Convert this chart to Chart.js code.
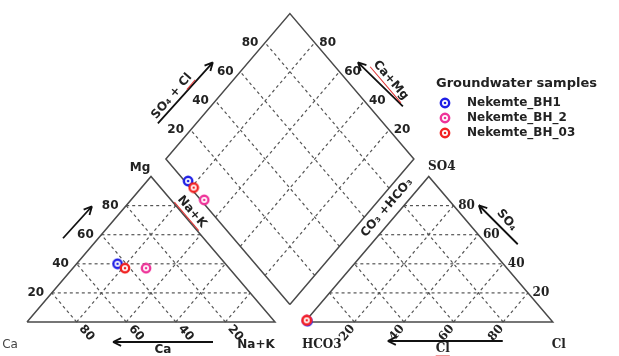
<!DOCTYPE html>
<html>
<head>
<meta charset="utf-8">
<script src="https://cdn.jsdelivr.net/npm/chart.js@4/dist/chart.umd.min.js"></script>
<style>
html, body { margin: 0; padding: 0; background: #fff; }
#wrap { width: 619px; height: 356px; position: relative; }
</style>
</head>
<body>
<div id="wrap"><canvas id="piper"></canvas></div>
<script>
// sample data (% meq/l)
const samples = ['Nekemte_BH1', 'Nekemte_BH_2', 'Nekemte_BH_03'];
const sampleColors = ['#1f1fe6', '#ee3399', '#f22222'];
const ca = [43.5, 33.5, 42];
const mg = [40, 37, 37];
const naK = [16.5, 29.5, 21];
const hco3 = [98.6, 98.6, 98.6];
const so4 = [0.6, 1.2, 1.2];
const cl = [0.8, 0.2, 0.2];
const gridTicks = [20, 40, 60, 80];

const GAP = 12;
const H = Math.sqrt(3) / 2;

function cationXY(c, m, n) {
    const t = c + m + n;
    return { x: (n + m / 2) / t * 100, y: m / t * 100 * H };
}
function anionXY(h, s, c) {
    const t = h + s + c;
    return { x: 100 + GAP + (c + s / 2) / t * 100, y: s / t * 100 * H };
}
function diamondXY(caMg, so4Cl) {
    return { x: 100 + GAP / 2 - caMg / 2 + so4Cl / 2, y: GAP * H + (caMg + so4Cl) * H };
}

function lineSet(points, dashed) {
    return {
        type: 'scatter',
        data: points,
        showLine: true,
        borderColor: dashed ? '#555' : '#4a4a4a',
        borderWidth: dashed ? 1.2 : 1.5,
        borderDash: dashed ? [3, 3] : [],
        pointRadius: 0,
        fill: false,
        order: 10
    };
}

const lineSets = [];
// outlines
lineSets.push(lineSet([{x: 0, y: 0}, {x: 100, y: 0}, {x: 50, y: 100 * H}, {x: 0, y: 0}], false));
const ox = 100 + GAP;
lineSets.push(lineSet([{x: ox, y: 0}, {x: ox + 100, y: 0}, {x: ox + 50, y: 100 * H}, {x: ox, y: 0}], false));
lineSets.push(lineSet([diamondXY(0, 0), diamondXY(100, 0), diamondXY(100, 100), diamondXY(0, 100), diamondXY(0, 0)], false));

// grids
gridTicks.forEach(t => {
    [0, ox].forEach(o => {
        lineSets.push(lineSet([{x: o + t / 2, y: t * H}, {x: o + 100 - t / 2, y: t * H}], true));
        lineSets.push(lineSet([{x: o + t, y: 0}, {x: o + t + (100 - t) / 2, y: (100 - t) * H}], true));
        lineSets.push(lineSet([{x: o + 100 - t, y: 0}, {x: o + (100 - t) / 2, y: (100 - t) * H}], true));
    });
    lineSets.push(lineSet([diamondXY(t, 0), diamondXY(t, 100)], true));
    lineSets.push(lineSet([diamondXY(0, t), diamondXY(100, t)], true));
});

function makeMarker(color) {
    const c = document.createElement('canvas');
    c.width = 12; c.height = 12;
    const g = c.getContext('2d');
    g.beginPath();
    g.arc(6, 6, 4.2, 0, Math.PI * 2);
    g.fillStyle = '#fff';
    g.fill();
    g.lineWidth = 2.4;
    g.strokeStyle = color;
    g.stroke();
    g.beginPath();
    g.arc(6, 6, 1.3, 0, Math.PI * 2);
    g.fillStyle = color;
    g.fill();
    return c;
}
const markers = sampleColors.map(makeMarker);

const pointSets = samples.map((name, i) => ({
    type: 'scatter',
    label: name,
    data: [
        cationXY(ca[i], mg[i], naK[i]),
        anionXY(hco3[i], so4[i], cl[i]),
        diamondXY(ca[i] + mg[i], so4[i] + cl[i])
    ],
    pointStyle: markers[i],
    order: 3 - i
}));

const PXX = 2.48, PXY = 1.68;
const xMin = -27 / PXX, yMax = 322 / PXY;

const annotations = {
    id: 'piperText',
    afterDatasetsDraw(chart) {
        const ctx = chart.ctx;
        const xs = chart.scales.x, ys = chart.scales.y;
        const P = (p, dx, dy) => [xs.getPixelForValue(p.x) + dx, ys.getPixelForValue(p.y) + dy];
        const a0 = P({x: 0, y: 0}, 0, 0), a1 = P({x: 50, y: 100 * H}, 0, 0);
        const edge = Math.atan2(a0[1] - a1[1], a1[0] - a0[0]);

        function text(str, pos, angle, font, color, underline) {
            ctx.save();
            ctx.translate(pos[0], pos[1]);
            ctx.rotate(angle);
            ctx.font = font;
            ctx.fillStyle = color || '#222';
            ctx.textAlign = 'center';
            ctx.textBaseline = 'middle';
            ctx.fillText(str, 0, 0);
            if (underline) {
                const w = ctx.measureText(str).width;
                const idx = str.indexOf(underline);
                const sx = -w / 2 + ctx.measureText(str.slice(0, idx)).width;
                ctx.strokeStyle = '#e03030';
                ctx.lineWidth = 1;
                ctx.beginPath();
                ctx.moveTo(sx, 7);
                ctx.lineTo(sx + ctx.measureText(underline).width, 7);
                ctx.stroke();
            }
            ctx.restore();
        }
        function arrow(p1, p2) {
            ctx.save();
            ctx.strokeStyle = '#111';
            ctx.lineWidth = 1.8;
            ctx.beginPath();
            ctx.moveTo(p1[0], p1[1]);
            ctx.lineTo(p2[0], p2[1]);
            const ang = Math.atan2(p2[1] - p1[1], p2[0] - p1[0]);
            [0.45, -0.45].forEach(d => {
                ctx.moveTo(p2[0], p2[1]);
                ctx.lineTo(p2[0] - 9 * Math.cos(ang + d), p2[1] - 9 * Math.sin(ang + d));
            });
            ctx.stroke();
            ctx.restore();
        }

        const sansB = 'bold 12px "DejaVu Sans"';
        const serifB = 'bold 12px "DejaVu Serif"';

        // tick labels
        gridTicks.forEach(t => {
            text(String(t), P({x: t / 2, y: t * H}, -16, 0), 0, sansB);
            text(String(t), P({x: 100 - t, y: 0}, 10, 11), edge, sansB);
            text(String(t), P({x: ox + 100 - t / 2, y: t * H}, 13, 0), 0, serifB);
            text(String(t), P({x: ox + t, y: 0}, -7, 11), -edge, serifB);
            text(String(t), P({x: 56 + t / 2, y: GAP * H + 100 * H + t * H}, -15, 0), 0, sansB);
            text(String(t), P({x: 156 - t / 2, y: GAP * H + 100 * H + t * H}, 13, 0), 0, sansB);
        });

        // corner labels
        text('Mg', P({x: 50, y: 100 * H}, -11, -9), 0, sansB);
        text('Ca', P({x: 0, y: 0}, -17, 23), 0, '12px "DejaVu Sans"', '#444');
        text('Na+K', P({x: 100, y: 0}, -19, 23), 0, sansB);
        text('HCO3', P({x: ox, y: 0}, 17, 23), 0, serifB);
        text('Cl', P({x: ox + 100, y: 0}, 6, 23), 0, serifB);
        text('SO4', P({x: ox + 50, y: 100 * H}, 13, -10), 0, serifB);

        // axis titles and arrows
        const mgMid = {x: 25, y: 50 * H};
        arrow(P(mgMid, -26, -11), P(mgMid, 3, -43));
        const caMid = {x: 50, y: 0};
        arrow(P(caMid, 62, 20), P(caMid, -38, 20));
        text('Ca', P(caMid, 12, 28), 0, sansB, '#222', 'Ca');
        const clMid = {x: ox + 50, y: 0};
        arrow(P(clMid, 74, 19), P(clMid, -41, 19));
        text('Cl', P(clMid, 14, 27), 0, serifB, '#222', 'Cl');
        const so4Mid = {x: ox + 75, y: 50 * H};
        arrow(P(so4Mid, 27, -5), P(so4Mid, -12, -44));
        text('SO\u2084', P(so4Mid, 16, -29), edge, sansB);
        const dl = diamondXY(100, 50);
        arrow(P(dl, -70, 37), P(dl, -15, -24));
        text('SO\u2084 + Cl', P(dl, -56, 10), -edge, sansB, '#222', 'Cl');
        const dr = diamondXY(50, 100);
        arrow(P(dr, 51, 20), P(dr, 6, -24));
        text('Ca+Mg', P(dr, 39, -6), edge, sansB, '#222', 'Ca+Mg');
        text('Na+K', P(diamondXY(50, 0), -36, -20), edge, sansB, '#222', 'Na+K');
        text('CO\u2083 +HCO\u2083', P(diamondXY(0, 50), 35, -24), -edge, sansB);

        // legend
        ctx.save();
        ctx.font = 'bold 13px "DejaVu Sans"';
        ctx.fillStyle = '#222';
        ctx.textBaseline = 'middle';
        ctx.fillText('Groundwater samples', 436, 84);
        ctx.font = 'bold 12px "DejaVu Sans"';
        samples.forEach((s, i) => {
            const y = 103 + i * 15;
            ctx.drawImage(markers[i], 439, y - 6);
            ctx.fillText(s, 467, y);
        });
        ctx.restore();
    }
};

new Chart(document.getElementById('piper'), {
    type: 'scatter',
    data: { datasets: [...pointSets, ...lineSets] },
    options: {
        responsive: true,
        maintainAspectRatio: false,
        animation: false,
        layout: { padding: 0, autoPadding: false },
        plugins: { legend: { display: false }, tooltip: { enabled: false } },
        scales: {
            x: { type: 'linear', display: false, min: xMin, max: xMin + 619 / PXX },
            y: { type: 'linear', display: false, min: yMax - 356 / PXY, max: yMax }
        }
    },
    plugins: [annotations]
});
</script>
</body>
</html>
